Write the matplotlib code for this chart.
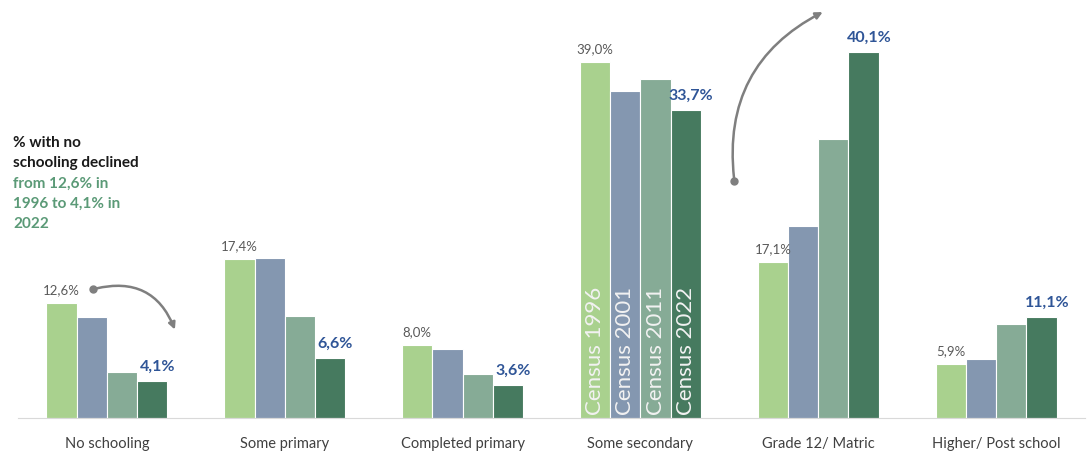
import numpy as np
import matplotlib
matplotlib.use("Agg")
import matplotlib.pyplot as plt

plt.rcParams['font.family'] = ['Lato', 'DejaVu Sans']

categories = ['No schooling', 'Some primary', 'Completed primary',
              'Some secondary', 'Grade 12/ Matric', 'Higher/ Post school']
series = ['Census 1996', 'Census 2001', 'Census 2011', 'Census 2022']
census_1996 = [12.6, 17.4, 8.0, 39.0, 17.1, 5.9]
census_2001 = [11.1, 17.5, 7.6, 35.8, 21.0, 6.5]
census_2011 = [5.0, 11.2, 4.8, 37.1, 30.6, 10.3]
census_2022 = [4.1, 6.6, 3.6, 33.7, 40.1, 11.1]
values = [census_1996, census_2001, census_2011, census_2022]
colors = ['#A9D18E', '#8497B0', '#86AB96', '#467A5F']


def fmt(v):
    return ('%.1f%%' % v).replace('.', ',')


fig = plt.figure(figsize=(10.88, 4.56), dpi=100)
ax = fig.add_axes([18 / 1088, 37 / 456, 1067 / 1088, 419 / 456])

x = np.arange(len(categories))
w = 0.17
for i, (vals, c) in enumerate(zip(values, colors)):
    ax.bar(x + (i - 1.5) * w, vals, width=w, color=c, edgecolor='white', linewidth=0.8)

# value labels: first census grey, last census blue bold
for j in range(len(categories)):
    ax.text(x[j] - 1.5 * w, census_1996[j] + 0.9, fmt(census_1996[j]),
            ha='center', va='bottom', fontsize=9.5, color='#595959')
    ax.text(x[j] + 1.5 * w + 0.03, census_2022[j] + 0.9, fmt(census_2022[j]),
            ha='center', va='bottom', fontsize=11.5, color='#2F5597', fontweight='bold')

# series names written inside the "Some secondary" bars
k = categories.index('Some secondary')
for i, name in enumerate(series):
    ax.text(x[k] + (i - 1.5) * w, 0.4, name, rotation=90, ha='center', va='bottom',
            fontsize=16, color='#F2F2F2')

# arrows
ax.annotate('', xy=(0.388, 9.4), xytext=(-0.079, 14.1),
            arrowprops=dict(arrowstyle='-|>', color='#7F7F7F', lw=1.8,
                            connectionstyle='arc3,rad=-0.45', mutation_scale=10))
ax.plot(-0.079, 14.1, 'o', color='#7F7F7F', ms=5)
ax.annotate('', xy=(4.039, 44.6), xytext=(3.528, 26.0),
            arrowprops=dict(arrowstyle='-|>', color='#7F7F7F', lw=1.8,
                            connectionstyle='arc3,rad=-0.35', mutation_scale=10))
ax.plot(3.528, 26.0, 'o', color='#7F7F7F', ms=5)

# note at the top left
note_lines = ['% with no', 'schooling declined', 'from 12,6% in', '1996 to 4,1% in', '2022']
note_colors = ['#1A1A1A', '#1A1A1A', '#5B9A77', '#5B9A77', '#5B9A77']
for n, (line, c) in enumerate(zip(note_lines, note_colors)):
    fig.text(13 / 1088, 1 - (143 + n * 20.3) / 456, line, ha='left', va='center',
             fontsize=11, fontweight='bold', color=c)

ax.set_xlim(-0.5, 5.5)
ax.set_ylim(0, 419 / 9.13)
ax.set_xticks(x)
ax.set_xticklabels(categories, fontsize=10.5, color='#404040')
ax.tick_params(axis='x', length=0, pad=13)
ax.set_yticks([])
for s in ['top', 'left', 'right']:
    ax.spines[s].set_visible(False)
ax.spines['bottom'].set_color('#D9D9D9')

fig.savefig('out.png', dpi=100)
